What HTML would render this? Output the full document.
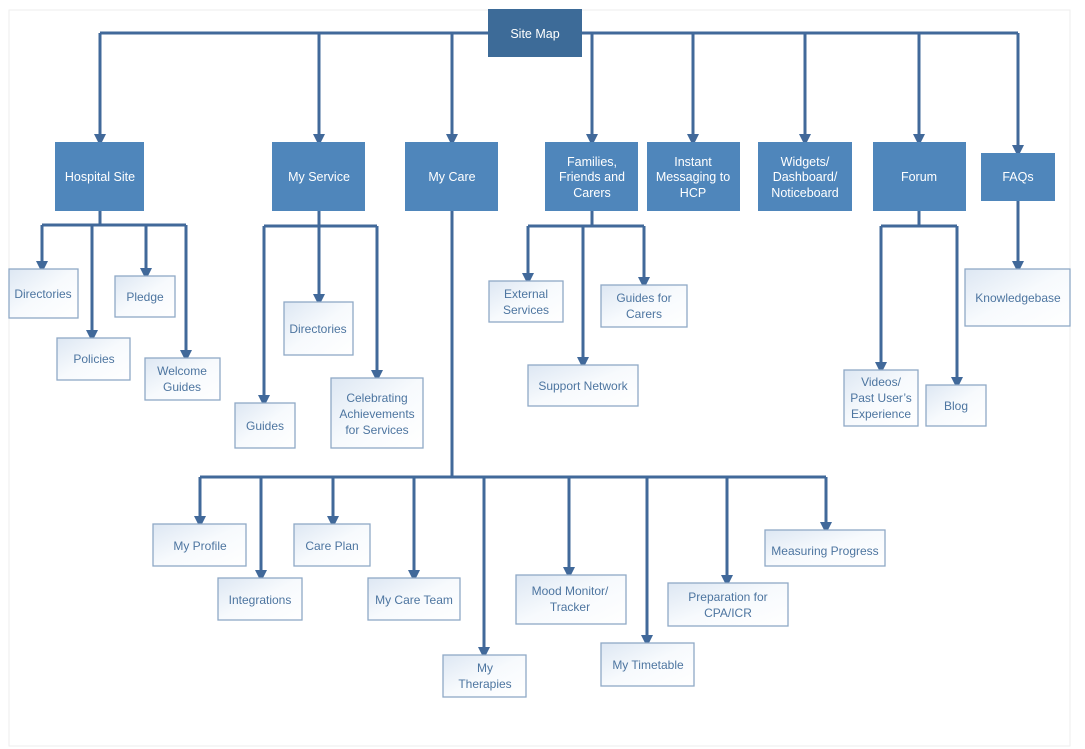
<!DOCTYPE html>
<html><head><meta charset="utf-8"><style>
html,body{margin:0;padding:0;background:#fff;}
svg{display:block;font-family:"Liberation Sans",sans-serif;}
.d{fill:#4f86bb;}
.l{fill:url(#g);stroke:#8fa9c6;stroke-width:1.3;}
.w{fill:#fff;font-size:12.5px;text-anchor:middle;}
.t{fill:#4d75a0;font-size:12px;text-anchor:middle;}
.c{stroke:#41699a;stroke-width:3;fill:none;}
</style></head><body>
<svg width="1085" height="749" viewBox="0 0 1085 749">
<defs>
<linearGradient id="g" x1="0" y1="0" x2="1" y2="1"><stop offset="0" stop-color="#dde7f3"/><stop offset="0.5" stop-color="#f7fafd"/><stop offset="1" stop-color="#ffffff"/></linearGradient>
<marker id="a" markerWidth="4" markerHeight="4" refX="2" refY="2" orient="auto" markerUnits="strokeWidth"><path d="M0,0 L4,2 L0,4 z" fill="#41699a"/></marker>
</defs>
<rect x="9" y="10" width="1061" height="736" fill="none" stroke="#eeeeee"/>
<!-- top connectors -->
<path class="c" d="M100,33 H1018"/>
<g class="c" marker-end="url(#a)">
<path d="M100,33 V140"/><path d="M319,33 V140"/><path d="M452,33 V140"/><path d="M592,33 V140"/><path d="M693,33 V140"/><path d="M805,33 V140"/><path d="M919,33 V140"/><path d="M1018,33 V151"/>
</g>
<rect x="488" y="9" width="94" height="48" fill="#3d6b98"/>
<text class="w" x="535" y="38" font-size="14">Site Map</text>
<!-- top level -->
<rect class="d" x="55" y="142" width="89" height="69"/><text class="w" x="100" y="181">Hospital Site</text>
<rect class="d" x="272" y="142" width="93" height="69"/><text class="w" x="319" y="181">My Service</text>
<rect class="d" x="405" y="142" width="93" height="69"/><text class="w" x="452" y="181">My Care</text>
<rect class="d" x="545" y="142" width="93" height="69"/><text class="w" x="592" y="166">Families,</text><text class="w" x="592" y="181">Friends and</text><text class="w" x="592" y="197">Carers</text>
<rect class="d" x="647" y="142" width="93" height="69"/><text class="w" x="693" y="166">Instant</text><text class="w" x="693" y="181">Messaging to</text><text class="w" x="693" y="197">HCP</text>
<rect class="d" x="758" y="142" width="94" height="69"/><text class="w" x="805" y="166">Widgets/</text><text class="w" x="805" y="181">Dashboard/</text><text class="w" x="805" y="197">Noticeboard</text>
<rect class="d" x="873" y="142" width="93" height="69"/><text class="w" x="919" y="181">Forum</text>
<rect class="d" x="981" y="153" width="74" height="48"/><text class="w" x="1018" y="181">FAQs</text>
<!-- Hospital children -->
<path class="c" d="M100,211 V225 M42,225 H186"/>
<g class="c" marker-end="url(#a)"><path d="M42,225 V267"/><path d="M92,225 V336"/><path d="M146,225 V274"/><path d="M186,225 V356"/></g>
<rect class="l" x="9" y="269" width="69" height="49"/><text class="t" x="43" y="298">Directories</text>
<rect class="l" x="57" y="338" width="73" height="42"/><text class="t" x="94" y="363">Policies</text>
<rect class="l" x="115" y="276" width="60" height="41"/><text class="t" x="145" y="301">Pledge</text>
<rect class="l" x="145" y="358" width="75" height="42"/><text class="t" x="182" y="375">Welcome</text><text class="t" x="182" y="391">Guides</text>
<!-- My Service children -->
<path class="c" d="M319,211 V226 M264,226 H377"/>
<g class="c" marker-end="url(#a)"><path d="M264,226 V401"/><path d="M319,226 V300"/><path d="M377,226 V376"/></g>
<rect class="l" x="284" y="302" width="69" height="53"/><text class="t" x="318" y="333">Directories</text>
<rect class="l" x="235" y="403" width="60" height="45"/><text class="t" x="265" y="430">Guides</text>
<rect class="l" x="331" y="378" width="92" height="70"/><text class="t" x="377" y="402">Celebrating</text><text class="t" x="377" y="418">Achievements</text><text class="t" x="377" y="434">for Services</text>
<!-- Families children -->
<path class="c" d="M592,211 V226 M528,226 H644"/>
<g class="c" marker-end="url(#a)"><path d="M528,226 V279"/><path d="M583,226 V363"/><path d="M644,226 V283"/></g>
<rect class="l" x="489" y="281" width="74" height="41"/><text class="t" x="526" y="298">External</text><text class="t" x="526" y="314">Services</text>
<rect class="l" x="528" y="365" width="110" height="41"/><text class="t" x="583" y="390">Support Network</text>
<rect class="l" x="601" y="285" width="86" height="42"/><text class="t" x="644" y="302">Guides for</text><text class="t" x="644" y="318">Carers</text>
<!-- Forum children -->
<path class="c" d="M919,211 V226 M881,226 H957"/>
<g class="c" marker-end="url(#a)"><path d="M881,226 V368"/><path d="M957,226 V383"/></g>
<rect class="l" x="844" y="370" width="74" height="56"/><text class="t" x="881" y="386">Videos/</text><text class="t" x="881" y="402">Past User’s</text><text class="t" x="881" y="418">Experience</text>
<rect class="l" x="926" y="385" width="60" height="41"/><text class="t" x="956" y="410">Blog</text>
<!-- FAQs child -->
<g class="c" marker-end="url(#a)"><path d="M1018,201 V267"/></g>
<rect class="l" x="965" y="269" width="105" height="57"/><text class="t" x="1018" y="302">Knowledgebase</text>
<!-- My Care children -->
<path class="c" d="M452,211 V477 M200,477 H826"/>
<g class="c" marker-end="url(#a)">
<path d="M200,477 V522"/><path d="M261,477 V576"/><path d="M333,477 V522"/><path d="M414,477 V576"/><path d="M484,477 V653"/><path d="M569,477 V573"/><path d="M647,477 V641"/><path d="M727,477 V581"/><path d="M826,477 V528"/>
</g>
<rect class="l" x="153" y="524" width="93" height="42"/><text class="t" x="200" y="550">My Profile</text>
<rect class="l" x="218" y="578" width="84" height="42"/><text class="t" x="260" y="604">Integrations</text>
<rect class="l" x="294" y="524" width="76" height="42"/><text class="t" x="332" y="550">Care Plan</text>
<rect class="l" x="368" y="578" width="92" height="42"/><text class="t" x="414" y="604">My Care Team</text>
<rect class="l" x="443" y="655" width="83" height="42"/><text class="t" x="485" y="672">My</text><text class="t" x="485" y="688">Therapies</text>
<rect class="l" x="516" y="575" width="110" height="49"/><text class="t" x="570" y="595">Mood Monitor/</text><text class="t" x="570" y="611">Tracker</text>
<rect class="l" x="601" y="643" width="93" height="43"/><text class="t" x="648" y="669">My Timetable</text>
<rect class="l" x="668" y="583" width="120" height="43"/><text class="t" x="728" y="601">Preparation for</text><text class="t" x="728" y="617">CPA/ICR</text>
<rect class="l" x="765" y="530" width="120" height="36"/><text class="t" x="825" y="555">Measuring Progress</text>
</svg>
</body></html>
